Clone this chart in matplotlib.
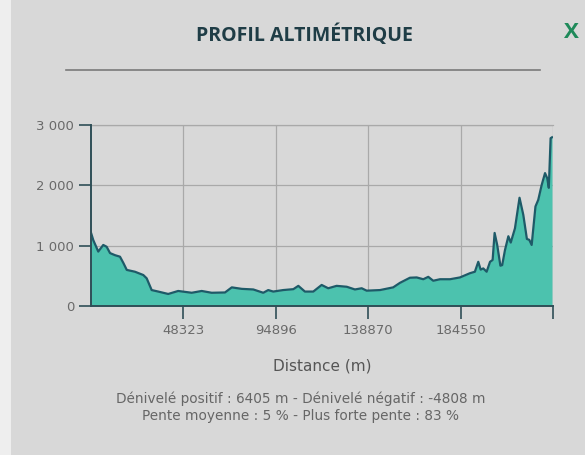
import matplotlib
matplotlib.use("Agg")
import matplotlib.pyplot as plt
from matplotlib.patches import Rectangle
from matplotlib.lines import Line2D

# ---- data ----
distance_m = [0, 1300, 3800, 6300, 8000, 9700, 12200, 14700, 16400, 18100,
              22200, 26400, 28100, 30600, 33900, 38900, 43900, 50700, 55700, 60700,
              67400, 70800, 75800, 81600, 86600, 89100, 91600, 96600, 101700, 104200,
              107500, 111700, 115900, 119200, 123400, 128500, 132600, 136000, 138500, 145200,
              151800, 155200, 160200, 163600, 166900, 169400, 171900, 175300, 180300, 185300,
              190300, 192800, 194500, 195700, 197000, 198700, 200400, 201700, 202700, 204000,
              205600, 206500, 207900, 209600, 210800, 212900, 215200, 217100, 218900, 220100,
              221300, 223200, 224600, 226300, 228000, 229100, 229900, 230800, 231500]
elevation_m = [1230, 1090, 900, 1010, 980, 875, 840, 815, 710, 595,
               565, 510, 455, 260, 235, 195, 245, 215, 245, 215,
               220, 305, 280, 270, 215, 260, 235, 260, 275, 330,
               235, 235, 345, 290, 330, 315, 270, 290, 250, 260,
               305, 380, 465, 470, 440, 480, 415, 440, 440, 470,
               540, 565, 730, 600, 620, 565, 730, 760, 1210, 1010,
               665, 675, 925, 1155, 1050, 1285, 1795, 1510, 1110, 1095,
               1010, 1650, 1760, 2005, 2205, 2120, 1960, 2785, 2800]
x_tick_labels = ["48323", "94896", "138870", "184550"]
y_ticks = [0, 1000, 2000, 3000]
y_tick_labels = ["0", "1 000", "2 000", "3 000"]
title = "PROFIL ALTIMÉTRIQUE"
x_label = "Distance (m)"
stats_line1 = "Dénivelé positif : 6405 m - Dénivelé négatif : -4808 m"
stats_line2 = "Pente moyenne : 5 % - Plus forte pente : 83 %"

# ---- style ----
W, H = 585, 455
bg = "#d8d8d8"
fill_col = "#4cc2ae"
line_col = "#1e5a68"
grid_col = "#a9a9a9"
text_col = "#6a6a6a"

fig = plt.figure(figsize=(W / 100, H / 100), dpi=100, facecolor=bg)

# light strip at the left edge of the photo
fig.patches.append(Rectangle((0, 0), 11 / W, 1, transform=fig.transFigure,
                             facecolor="#eeeeee", edgecolor="none", zorder=0))

left, right = 90.7 / W, 553 / W
bottom, top = 1 - 305.7 / H, 1 - 125.3 / H
ax = fig.add_axes([left, bottom, right - left, top - bottom])
ax.set_facecolor(bg)

xmax = 232000
ax.fill_between(distance_m, elevation_m, 0, color=fill_col, linewidth=0, zorder=2)
ax.plot(distance_m, elevation_m, color=line_col, linewidth=1.6, zorder=3)

ax.set_xlim(0, xmax)
ax.set_ylim(0, 3000)

xt = [xmax * k / 5 for k in range(1, 5)]
ax.set_xticks(xt + [xmax])
ax.set_xticklabels(x_tick_labels + [""])
ax.set_yticks(y_ticks)
ax.set_yticklabels(y_tick_labels)

ax.grid(True, color=grid_col, linewidth=0.9, zorder=1)
for s in ["top", "right"]:
    ax.spines[s].set_visible(False)
for s in ["left", "bottom"]:
    ax.spines[s].set_color("#2f4f57")
    ax.spines[s].set_linewidth(1.4)
    ax.spines[s].set_zorder(4)

ax.tick_params(axis="both", colors="#2f4f57", length=9, width=1.2,
               labelcolor=text_col, labelsize=9.5)
ax.tick_params(axis="x", pad=4)
ax.tick_params(axis="y", pad=3)

ax.axhline(3000, color=grid_col, linewidth=0.9, zorder=1, clip_on=False)

# texts
fig.text(304 / W, 1 - 35 / H, title, ha="center", va="center", fontsize=14,
         fontweight="bold", color="#1f3d46", family=["Open Sans", "DejaVu Sans"])
fig.text(571 / W, 1 - 32 / H, "X", ha="center", va="center", fontsize=16,
         fontweight="bold", color="#1f8a5a", family=["Open Sans", "DejaVu Sans"])
fig.add_artist(Line2D([66 / W, 540 / W], [1 - 70 / H, 1 - 70 / H],
                      color="#7a7a7a", linewidth=1.2, transform=fig.transFigure))

fig.text(322 / W, 1 - 366 / H, x_label, ha="center", va="center",
         fontsize=11, color="#555555")
fig.text(301 / W, 1 - 399 / H, stats_line1, ha="center", va="center",
         fontsize=9.8, color="#666666")
fig.text(301 / W, 1 - 416 / H, stats_line2, ha="center", va="center",
         fontsize=9.8, color="#666666")

fig.savefig("out.png", dpi=100, facecolor=bg)
